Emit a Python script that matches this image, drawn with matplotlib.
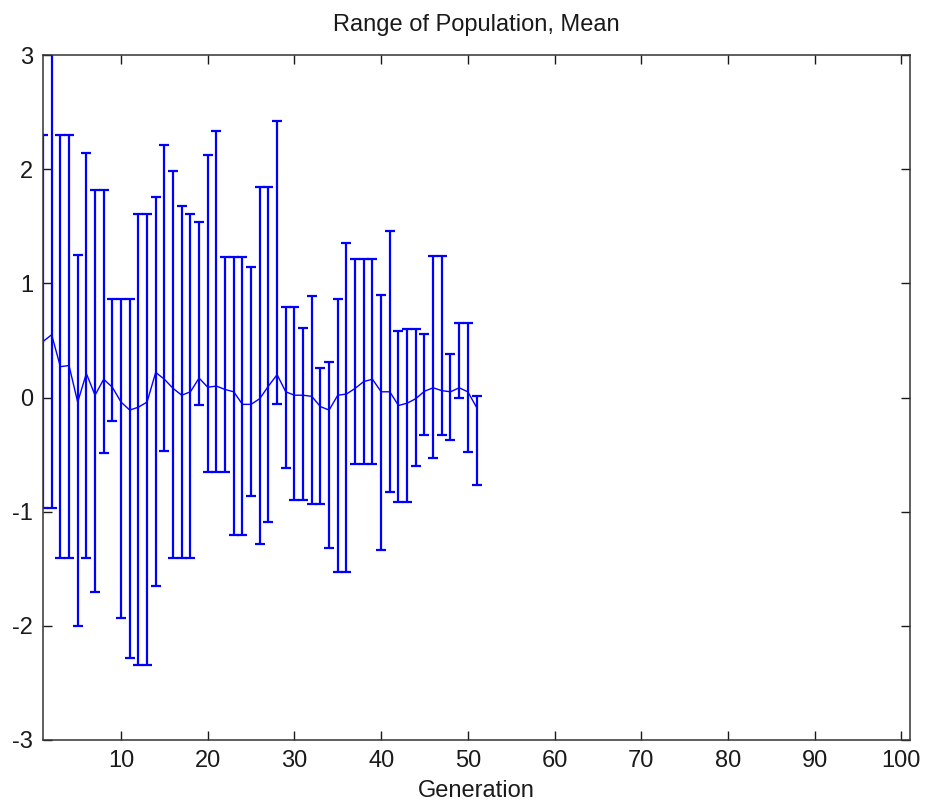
import numpy as np
import matplotlib
matplotlib.use("Agg")
import matplotlib.pyplot as plt

plt.rcParams["font.family"] = ["Liberation Sans", "DejaVu Sans"]
plt.rcParams["axes.unicode_minus"] = False

# ── données ───────────────────────────────────────────────────────────────────
generation = np.arange(1, 52)

pop_mean = [0.49, 0.55, 0.27, 0.28, -0.04, 0.21, 0.02, 0.16, 0.09, -0.04,
            -0.11, -0.085, -0.04, 0.22, 0.16, 0.08, 0.02, 0.05, 0.17, 0.09,
            0.10, 0.07, 0.05, -0.06, -0.06, -0.01, 0.10, 0.20, 0.05, 0.02,
            0.02, 0.01, -0.08, -0.11, 0.02, 0.03, 0.08, 0.14, 0.16, 0.05,
            0.05, -0.07, -0.05, -0.01, 0.055, 0.085, 0.06, 0.05, 0.085, 0.05,
            -0.085]

pop_max = [2.30, 3.30, 2.30, 2.30, 1.245, 2.14, 1.82, 1.82, 0.866, 0.866,
           0.866, 1.61, 1.61, 1.76, 2.21, 1.98, 1.68, 1.61, 1.54, 2.12,
           2.33, 1.23, 1.23, 1.23, 1.14, 1.84, 1.84, 2.42, 0.79, 0.79,
           0.61, 0.89, 0.26, 0.31, 0.86, 1.35, 1.21, 1.21, 1.21, 0.895,
           1.46, 0.58, 0.60, 0.60, 0.56, 1.24, 1.24, 0.38, 0.65, 0.65,
           0.015]

pop_min = [-0.97, -0.97, -1.41, -1.41, -2.00, -1.41, -1.70, -0.49, -0.21, -1.93,
           -2.28, -2.34, -2.34, -1.65, -0.47, -1.41, -1.41, -1.41, -0.07, -0.65,
           -0.65, -0.65, -1.20, -1.20, -0.86, -1.28, -1.09, -0.055, -0.62, -0.895,
           -0.895, -0.93, -0.93, -1.32, -1.53, -1.53, -0.58, -0.58, -0.58, -1.34,
           -0.83, -0.915, -0.915, -0.60, -0.33, -0.53, -0.33, -0.37, 0.00, -0.48,
           -0.77]

x_ticks = list(range(10, 101, 10))
y_ticks = list(range(-3, 4))

# ── figure ────────────────────────────────────────────────────────────────────
W, H = 925, 807
fig = plt.figure(figsize=(W / 100, H / 100), dpi=100)
ax = fig.add_axes([43 / W, 1 - 740 / H, (910 - 43) / W, (740 - 55) / H])

m = np.array(pop_mean)
err = [m - np.array(pop_min), np.array(pop_max) - m]
ax.errorbar(generation, m, yerr=err, color="#0000ff", linewidth=1.0,
            elinewidth=1.6, capsize=3.8, capthick=1.6)

ax.set_xlim(1, 101)
ax.set_ylim(-3, 3)
ax.set_xticks(x_ticks)
ax.set_yticks(y_ticks)
ax.tick_params(direction="in", length=6.5, width=1.0, top=True, right=True,
               labelsize=17, pad=7, colors="#1a1a1a")
for sp in ax.spines.values():
    sp.set_linewidth(1.1)
    sp.set_color("#333333")

ax.set_xlabel("Generation", fontsize=17, labelpad=6, color="#1a1a1a")
ax.set_title("Range of Population, Mean", fontsize=17, pad=17, color="#1a1a1a")

fig.savefig("out.png", dpi=100)
